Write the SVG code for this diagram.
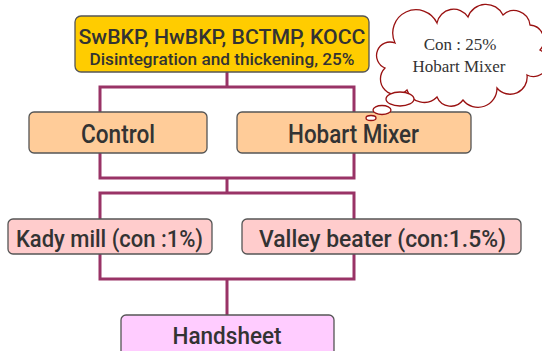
<svg xmlns="http://www.w3.org/2000/svg" width="542" height="351" viewBox="0 0 542 351">
<defs>
<style>
.box{stroke:#555;stroke-width:1.3}
.lbl{font-family:Roboto,"Liberation Sans",sans-serif;font-weight:500;fill:#333;text-anchor:middle}
.conn{fill:none;stroke:#993366;stroke-width:3;stroke-linejoin:miter}
.cloud{fill:#fff;stroke:#991111;stroke-width:1.3}
.ct{font-family:"Liberation Serif",serif;font-size:17px;fill:#333;text-anchor:middle}
</style>
</defs>
<rect width="542" height="351" fill="#fff"/>
<g id="connectors">
<path class="conn" d="M227,72 V87 M100,112 V87 H354 V112"/>
<path class="conn" d="M100,153 V178 H354 V153 M227,178 V193 M100,219 V193 H354 V219"/>
<path class="conn" d="M100,254 V279 H354 V254 M227,279 V315"/>
</g>
<g id="source">
<rect class="box" x="75" y="16" width="294" height="56" rx="6" fill="#FFCC00"/>
<text class="lbl" x="222" y="44" font-size="21" textLength="287" lengthAdjust="spacingAndGlyphs">SwBKP, HwBKP, BCTMP, KOCC</text>
<text class="lbl" x="222" y="64.8" font-size="16.5" textLength="265" lengthAdjust="spacingAndGlyphs">Disintegration and thickening, 25%</text>
</g>
<g id="control">
<rect class="box" x="29" y="112" width="178" height="41" rx="5" fill="#FFCC99"/>
<text class="lbl" x="118" y="143" font-size="25" textLength="74" lengthAdjust="spacingAndGlyphs">Control</text>
</g>
<g id="hobart">
<rect class="box" x="237" y="112" width="234" height="41" rx="5" fill="#FFCC99"/>
<text class="lbl" x="353.5" y="143" font-size="25" textLength="131" lengthAdjust="spacingAndGlyphs">Hobart Mixer</text>
</g>
<g id="kady">
<rect class="box" x="8" y="219" width="204" height="35" rx="5" fill="#FFCCCC"/>
<text class="lbl" x="109.5" y="246.5" font-size="24" textLength="187" lengthAdjust="spacingAndGlyphs">Kady mill (con :1%)</text>
</g>
<g id="valley">
<rect class="box" x="242" y="219" width="279" height="35" rx="5" fill="#FFCCCC"/>
<text class="lbl" x="382.5" y="246.5" font-size="24" textLength="247" lengthAdjust="spacingAndGlyphs">Valley beater (con:1.5%)</text>
</g>
<g id="handsheet">
<rect class="box" x="121" y="315" width="213" height="50" rx="5" fill="#FFCCFF"/>
<text class="lbl" x="227" y="344" font-size="24" textLength="109" lengthAdjust="spacingAndGlyphs">Handsheet</text>
</g>
<g id="callout">
<path class="cloud" d="M385,68 A13,13 0 0 1 395,43 A21,21 0 0 1 437,23 A17,17 0 0 1 468,17 A19,19 0 0 1 503,15 A16,16 0 0 1 530,25 A15,15 0 0 1 540,50 A14,14 0 0 1 527,75 A17,17 0 0 1 497,88 A19,19 0 0 1 463,100 A15,15 0 0 1 437,97 A18,18 0 0 1 407,90 A15,15 0 0 1 385,68 Z"/>
<ellipse class="cloud" cx="400" cy="99" rx="14" ry="7"/>
<ellipse class="cloud" cx="382" cy="110" rx="9" ry="4.5"/>
<ellipse class="cloud" cx="371" cy="118" rx="5" ry="2.5"/>
<text class="ct" x="460" y="50">Con : 25%</text>
<text class="ct" x="459" y="71.5">Hobart Mixer</text>
</g>
</svg>
